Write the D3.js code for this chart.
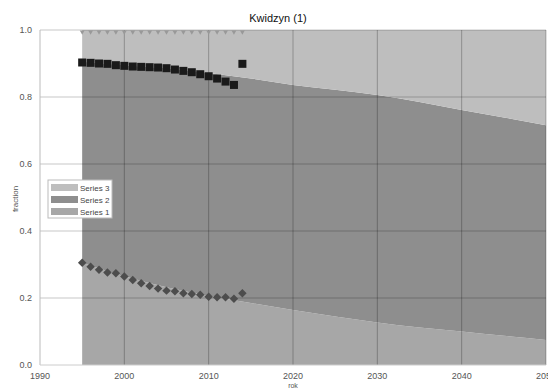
<!DOCTYPE html>
<html><head><meta charset="utf-8">
<script src="https://cdn.jsdelivr.net/npm/d3@7/dist/d3.min.js"></script>
<style>body{margin:0;background:#fff}svg{display:block}text{font-family:"Liberation Sans",Arial,sans-serif}</style>
</head><body><svg id="c" width="548" height="388"></svg>
<script>
// projection boundaries (stacked fractions)
const projYears = [1995,2000,2005,2010,2015,2020,2025,2030,2035,2040,2045,2050];
const lowerCurve = [0.305,0.265,0.232,0.207,0.185,0.164,0.145,0.127,0.112,0.100,0.087,0.075];
const upperCurve = [0.905,0.895,0.886,0.872,0.855,0.836,0.822,0.806,0.785,0.761,0.739,0.716];
// observed points
const obsYears = [1995,1996,1997,1998,1999,2000,2001,2002,2003,2004,2005,2006,2007,2008,2009,2010,2011,2012,2013,2014];
const squares = [0.903,0.902,0.900,0.899,0.895,0.893,0.891,0.890,0.889,0.888,0.886,0.882,0.878,0.874,0.868,0.862,0.855,0.846,0.836,0.899];
const diamonds = [0.305,0.293,0.284,0.276,0.274,0.264,0.254,0.244,0.236,0.228,0.222,0.220,0.214,0.212,0.210,0.204,0.202,0.202,0.198,0.214];
const triangles = obsYears.map(()=>1.0);
const xTicks = [1990,2000,2010,2020,2030,2040,2050];
const yTicks = [0,0.2,0.4,0.6,0.8,1.0];
const legendNames = ["Series 3","Series 2","Series 1"];

const svg = d3.select("#c");
const x = d3.scaleLinear().domain([1990,2050]).range([40,546]);
const y = d3.scaleLinear().domain([0,1]).range([365,30]);
const cTop="#bebebe", cMid="#8e8e8e", cBot="#a7a7a7";

const proj = projYears.map((yr,i)=>({yr, lo:lowerCurve[i], up:upperCurve[i]}));
const curve = d3.curveMonotoneX;
svg.append("path").datum(proj).attr("fill",cBot)
  .attr("d", d3.area().curve(curve).x(d=>x(d.yr)).y0(y(0)).y1(d=>y(d.lo)));
svg.append("path").datum(proj).attr("fill",cMid)
  .attr("d", d3.area().curve(curve).x(d=>x(d.yr)).y0(d=>y(d.lo)).y1(d=>y(d.up)));
svg.append("path").datum(proj).attr("fill",cTop)
  .attr("d", d3.area().curve(curve).x(d=>x(d.yr)).y0(d=>y(d.up)).y1(y(1)));

// gridlines
const g = svg.append("g");
yTicks.forEach(t=>{ if(t>0) g.append("line").attr("x1",40).attr("x2",546).attr("y1",y(t)).attr("y2",y(t))
  .attr("stroke","#000").attr("stroke-opacity",0.22).attr("stroke-width",1);});
xTicks.slice(1).forEach(t=>g.append("line").attr("x1",x(t)).attr("x2",x(t)).attr("y1",y(1)).attr("y2",y(0))
  .attr("stroke","#000").attr("stroke-opacity",0.25).attr("stroke-width",1));
// axes lines
svg.append("line").attr("x1",40).attr("x2",40).attr("y1",y(1)).attr("y2",y(0)).attr("stroke","#bbb");
svg.append("line").attr("x1",40).attr("x2",546).attr("y1",y(0)).attr("y2",y(0)).attr("stroke","#ccc");

// tick labels
xTicks.forEach(t=>svg.append("text").attr("x",x(t)).attr("y",379).attr("text-anchor","middle")
  .attr("font-size",9).attr("fill","#555").text(t));
yTicks.forEach(t=>svg.append("text").attr("x",32).attr("y",y(t)+3).attr("text-anchor","end")
  .attr("font-size",9).attr("fill","#555").text(t.toFixed(1)));

// titles
svg.append("text").attr("x",278).attr("y",22).attr("text-anchor","middle").attr("font-size",11).attr("fill","#111").text("Kwidzyn (1)");
svg.append("text").attr("x",293).attr("y",388).attr("text-anchor","middle").attr("font-size",7).attr("fill","#555").text("rok");
svg.append("text").attr("transform","translate(18,199) rotate(-90)").attr("text-anchor","middle").attr("font-size",8).attr("fill","#555").text("fraction");

// points
const sym = (type,size)=>d3.symbol().type(type).size(size)();
svg.append("g").selectAll("path").data(obsYears).join("path")
  .attr("transform",(d,i)=>`translate(${x(d)},${y(triangles[i])+2}) rotate(180)`)
  .attr("d",sym(d3.symbolTriangle,10)).attr("fill","#999");
svg.append("g").selectAll("rect").data(obsYears).join("rect")
  .attr("transform",(d,i)=>`translate(${x(d)},${y(diamonds[i])}) rotate(45)`)
  .attr("x",-3).attr("y",-3).attr("width",6).attr("height",6).attr("fill","#4d4d4d");
svg.append("g").selectAll("rect").data(obsYears).join("rect")
  .attr("x",d=>x(d)-4).attr("y",(d,i)=>y(squares[i])-4).attr("width",8).attr("height",8).attr("fill","#1a1a1a");

// legend
const lg = svg.append("g").attr("transform","translate(48,180)");
lg.append("rect").attr("width",64).attr("height",38).attr("fill","#fff").attr("stroke","#bbb");
const legCols=[cTop,cMid,cBot];
legendNames.forEach((n,i)=>{
  lg.append("rect").attr("x",3).attr("y",4+i*12).attr("width",27).attr("height",7).attr("fill",legCols[i]);
  lg.append("text").attr("x",32).attr("y",11+i*12).attr("font-size",8).attr("fill","#444").text(n);
});
</script></body></html>
